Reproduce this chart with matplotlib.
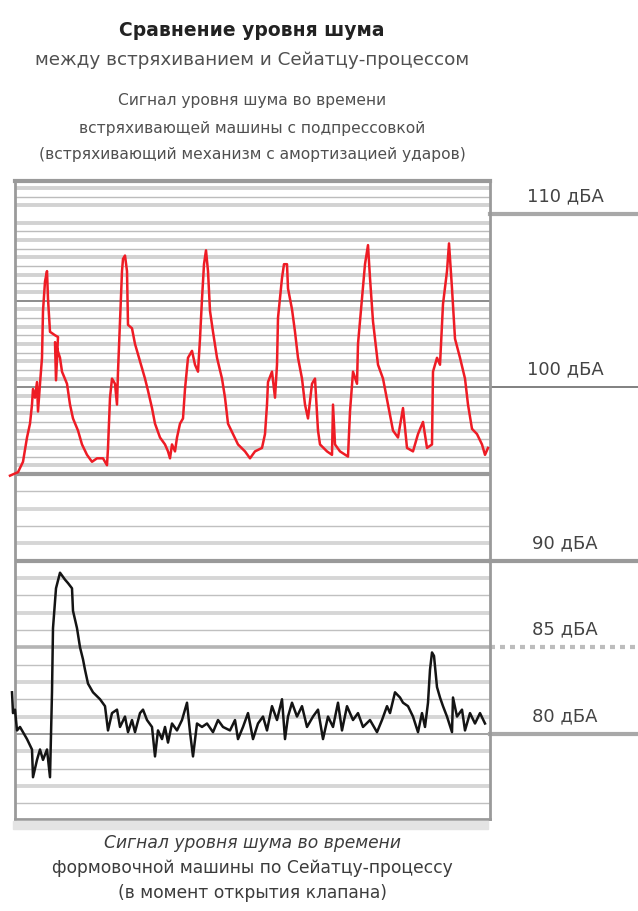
import numpy as np
import matplotlib
matplotlib.use("Agg")
import matplotlib.pyplot as plt
from matplotlib.patches import Rectangle

plt.rcParams['font.family'] = ['DejaVu Sans']

# time axis in arbitrary units (box spans 15..490)
t_shake = [10, 18, 23, 27, 30, 32, 33, 35, 37, 38, 40, 42, 43, 45, 47, 48, 50, 55, 58, 56,
           55, 60, 62, 67, 70, 73, 78, 82, 87, 92, 97, 103, 107, 108, 110, 112, 115, 117, 118, 120,
           122, 123, 125, 127, 128, 132, 135, 140, 145, 148, 152, 155, 160, 165, 168, 170, 172, 175, 177, 180,
           183, 185, 188, 192, 195, 198, 200, 202, 204, 206, 208, 210, 213, 217, 222, 225, 228, 233, 238, 245,
           250, 255, 262, 265, 267, 268, 272, 275, 277, 278, 282, 284, 287, 288, 292, 295, 298, 302, 305, 308,
           312, 315, 318, 320, 327, 332, 333, 335, 340, 348, 350, 353, 357, 358, 362, 365, 368, 370, 373, 378,
           383, 388, 393, 398, 403, 407, 413, 418, 423, 427, 432, 433, 437, 440, 443, 447, 449, 452, 455, 460,
           465, 468, 472, 477, 482, 485, 488]
db_shake = [94.9, 95.1, 95.7, 97.1, 97.9, 99.0, 99.9, 99.4, 100.3, 98.6, 100.2, 101.7, 104.4, 106.1, 106.7, 105.1, 103.2, 103.0, 102.9, 100.4,
            102.6, 101.7, 100.9, 100.2, 99.0, 98.2, 97.5, 96.7, 96.1, 95.7, 95.9, 95.9, 95.5, 96.5, 99.4, 100.5, 100.2, 99.0, 100.9, 103.8,
            106.7, 107.4, 107.6, 106.7, 103.6, 103.4, 102.5, 101.5, 100.5, 99.8, 98.8, 97.9, 97.1, 96.7, 96.3, 95.9, 96.7, 96.3, 97.1, 97.9,
            98.2, 99.9, 101.7, 102.1, 101.3, 100.9, 102.8, 105.1, 107.1, 107.9, 106.7, 104.4, 103.2, 101.7, 100.5, 99.4, 97.9, 97.3, 96.7, 96.3,
            95.9, 96.3, 96.5, 97.3, 99.0, 100.3, 100.9, 99.4, 101.3, 104.0, 106.3, 107.1, 107.1, 105.7, 104.5, 103.2, 101.7, 100.5, 99.0, 98.2,
            100.2, 100.5, 97.5, 96.7, 96.3, 96.1, 99.0, 96.7, 96.3, 96.0, 98.6, 100.9, 100.2, 102.5, 105.1, 107.1, 108.2, 106.3, 103.8, 101.3,
            100.5, 99.0, 97.5, 97.1, 98.8, 96.5, 96.3, 97.3, 98.0, 96.5, 96.7, 100.9, 101.7, 101.3, 104.8, 106.7, 108.3, 105.7, 102.8, 101.7,
            100.5, 99.0, 97.6, 97.3, 96.7, 96.1, 96.5]

t_seiatsu = [12, 13, 15, 17, 20, 27, 32, 33, 37, 40, 43, 47, 50, 52, 53, 56, 60, 65, 68, 72,
             73, 77, 80, 83, 85, 88, 93, 100, 105, 108, 112, 117, 120, 125, 128, 132, 135, 140, 143, 147,
             152, 155, 158, 162, 165, 168, 172, 177, 182, 187, 190, 193, 197, 202, 207, 213, 218, 223, 230, 235,
             238, 243, 248, 253, 258, 263, 267, 272, 277, 282, 285, 288, 292, 297, 302, 307, 313, 318, 323, 328,
             333, 338, 342, 347, 353, 358, 363, 370, 377, 382, 387, 390, 395, 400, 403, 408, 413, 418, 422, 425,
             428, 430, 432, 434, 437, 440, 443, 447, 452, 453, 457, 462, 465, 470, 475, 480, 485]
db_seiatsu = [82.4, 81.2, 81.4, 80.2, 80.4, 79.7, 79.1, 77.5, 78.5, 79.1, 78.5, 79.1, 77.5, 82.4, 86.1, 88.4, 89.3, 88.9, 88.7, 88.4,
              87.1, 86.1, 85.0, 84.3, 83.7, 82.9, 82.4, 82.0, 81.6, 80.2, 81.2, 81.4, 80.4, 81.0, 80.1, 80.8, 80.1, 81.2, 81.4, 80.8,
              80.4, 78.7, 80.2, 79.7, 80.4, 79.5, 80.6, 80.2, 80.8, 81.8, 80.1, 78.7, 80.6, 80.4, 80.6, 80.1, 80.8, 80.4, 80.2, 80.8,
              79.7, 80.4, 81.2, 79.7, 80.6, 81.0, 80.2, 81.6, 80.8, 82.0, 79.7, 81.0, 81.8, 81.0, 81.6, 80.4, 81.0, 81.4, 79.7, 81.0,
              80.4, 81.8, 80.2, 81.6, 80.8, 81.2, 80.4, 80.8, 80.1, 80.8, 81.6, 81.2, 82.4, 82.1, 81.8, 81.6, 81.0, 80.1, 81.2, 80.4,
              81.8, 83.7, 84.7, 84.5, 82.7, 82.1, 81.6, 81.0, 80.1, 82.1, 81.0, 81.4, 80.2, 81.2, 80.6, 81.2, 80.6]

ref_levels = [110, 100, 90, 85, 80]
ref_labels = ['110 дБА', '100 дБА', '90 дБА', '85 дБА', '80 дБА']

title_lines = ['Сравнение уровня шума', 'между встряхиванием и Сейатцу-процессом']
top_caption = ['Сигнал уровня шума во времени',
               'встряхивающей машины с подпрессовкой',
               '(встряхивающий механизм с амортизацией ударов)']
bottom_caption = ['Сигнал уровня шума во времени',
                  'формовочной машины по Сейатцу-процессу',
                  '(в момент открытия клапана)']

W, H = 638, 912
fig = plt.figure(figsize=(W / 100, H / 100), dpi=100)
fig.patch.set_facecolor('white')
ax = fig.add_axes([15 / W, 1 - 820 / H, 475 / W, 638 / H])
ax.set_xlim(15, 490)
ax.set_ylim(75.09, 111.9)

# background stripes
for k, lv in enumerate(np.arange(95.5, 111.9, 0.5)):
    if lv % 5 == 0:
        continue
    if k % 2 == 0:
        ax.axhline(lv, color='#d2d2d2', lw=2.8, zorder=1)
    else:
        ax.axhline(lv, color='#bcbcbc', lw=1.0, zorder=1)
for lv in range(76, 95):
    if lv % 5 == 0:
        continue
    if lv % 2 == 1:
        ax.axhline(lv, color='#d6d6d6', lw=2.8, zorder=1)
    else:
        ax.axhline(lv, color='#c0c0c0', lw=1.0, zorder=1)
for lv in [105, 100]:
    ax.axhline(lv, color='#8c8c8c', lw=1.4, zorder=1)
for lv in [95, 90]:
    ax.axhline(lv, color='#9a9a9a', lw=3.0, zorder=1)
ax.axhline(85, color='#b4b4b4', lw=2.6, zorder=1)
ax.axhline(80, color='#a0a0a0', lw=1.4, zorder=1)

ax.plot(t_shake, db_shake, color='#ee1c25', lw=1.8, zorder=3, clip_on=False)
ax.plot(t_seiatsu, db_seiatsu, color='#141414', lw=1.8, zorder=3, clip_on=False)

for s in ax.spines.values():
    s.set_color('#9a9a9a')
    s.set_linewidth(2.0)
ax.spines['top'].set_linewidth(3.0)
ax.set_xticks([])
ax.set_yticks([])

# reference levels on the right
trans = ax.get_yaxis_transform()
styles = {110: ('#a8a8a8', 3.0, '-'), 100: ('#808080', 1.4, '-'),
          90: ('#9a9a9a', 3.0, '-'), 85: ('#bdbdbd', 3.0, (0, (1.2, 1.2))),
          80: ('#a8a8a8', 3.0, '-')}
for lv, lab in zip(ref_levels, ref_labels):
    c, lw, ls = styles[lv]
    ax.plot([1.0, 638 / 475.0], [lv, lv], transform=trans, color=c, lw=lw,
            ls=ls, clip_on=False, zorder=2)
    ax.text(565 / 475.0 - 15 / 475.0, lv + 0.55, lab, transform=trans,
            ha='center', va='bottom', fontsize=13, color='#444444')

# shadow under the box
fig.patches.append(Rectangle((13 / W, 1 - 830 / H), 475 / W, 8 / H,
                             transform=fig.transFigure, color='#e4e4e4', zorder=0))

cx = 252 / W
fig.text(cx, 1 - 30 / H, title_lines[0], ha='center', va='center',
         fontsize=13.5, fontweight='bold', color='#222222')
fig.text(cx, 1 - 60 / H, title_lines[1], ha='center', va='center',
         fontsize=13.2, color='#505050')
for y, s in zip([100, 128, 155], top_caption):
    fig.text(cx, 1 - y / H, s, ha='center', va='center', fontsize=11.2,
             color='#505050')
for y, s, st in zip([843, 868, 893], bottom_caption, ['italic', 'normal', 'normal']):
    fig.text(cx, 1 - y / H, s, ha='center', va='center', fontsize=12.3,
             color='#3c3c3c', style=st)

fig.savefig('out.png', dpi=100)
